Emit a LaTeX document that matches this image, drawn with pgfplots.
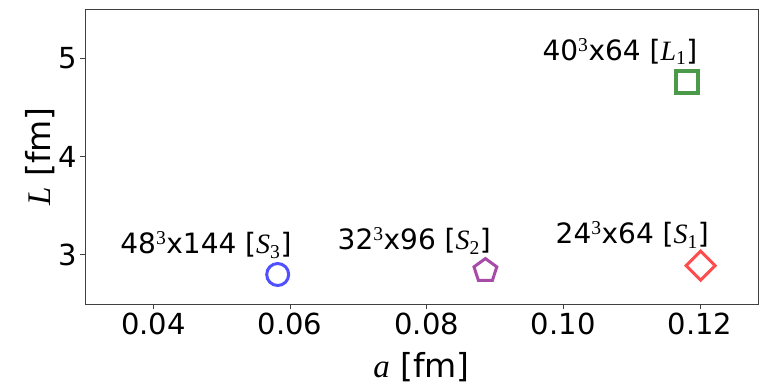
\documentclass[border=0pt]{standalone}
\usepackage{fontspec}
\setmainfont{DejaVu Sans}
\newfontfamily\stix{Liberation Serif}
\usepackage{pgfplots}
\pgfplotsset{compat=1.18}
\usetikzlibrary{plotmarks}
\definecolor{cblue}{HTML}{5050FF}
\definecolor{cpurple}{HTML}{A64CA6}
\definecolor{cred}{HTML}{FF4D4D}
\definecolor{cgreen}{HTML}{4A9A4A}
\newcommand{\mi}[1]{{\stix\itshape #1}}
\newcommand{\sub}[1]{\textsubscript{\stix #1}}
\begin{document}
\begin{tikzpicture}
\begin{axis}[
  scale only axis, width=673pt, height=295pt,
  xmin=0.03, xmax=0.1285, ymin=2.5, ymax=5.5,
  xtick={0.04,0.06,0.08,0.10,0.12},
  ytick={3,4,5},
  xticklabel style={/pgf/number format/.cd,fixed,fixed zerofill,precision=2},
  /pgf/number format/assume math mode=true,
  tick label style={font=\fontsize{29}{34}\selectfont},
  axis line style={black!75, line width=0.8pt},
  tick style={black!75, line width=0.8pt},
  tick align=outside, major tick length=5pt,
  xtick pos=bottom, ytick pos=left,
  xlabel={\mi{a} [fm]}, ylabel={\mi{L} [fm]},
  label style={font=\fontsize{33}{38}\selectfont},
  xlabel style={yshift=-11pt},
  ylabel style={yshift=-4pt},
  clip=false,
]
\addplot[only marks, mark=o, mark size=11pt, cblue, line width=3pt] coordinates {(0.0582,2.80)};
\addplot[only marks, mark=pentagon, mark size=12pt, cpurple, line width=3pt] coordinates {(0.0886,2.84)};
\addplot[only marks, mark=square, mark size=10.3pt, cred, line width=3pt, mark options={rotate=45}] coordinates {(0.1201,2.89)};
\addplot[only marks, mark=square, mark size=11pt, cgreen, line width=3.5pt] coordinates {(0.1181,4.76)};
\node[font=\fontsize{28}{32}\selectfont] at (axis cs:0.0477,3.10) {48\textsuperscript{\stix 3}x144 [\mi{S}\sub{3}]};
\node[font=\fontsize{28}{32}\selectfont] at (axis cs:0.0782,3.14) {32\textsuperscript{\stix 3}x96 [\mi{S}\sub{2}]};
\node[font=\fontsize{28}{32}\selectfont] at (axis cs:0.1101,3.20) {24\textsuperscript{\stix 3}x64 [\mi{S}\sub{1}]};
\node[font=\fontsize{28}{32}\selectfont] at (axis cs:0.1083,5.07) {40\textsuperscript{\stix 3}x64 [\mi{L}\sub{1}]};
\end{axis}
\pgfresetboundingbox
\path ([shift={(-85pt,-81pt)}]current axis.south west) rectangle ([shift={(2pt,9pt)}]current axis.north east);
\end{tikzpicture}
\end{document}
